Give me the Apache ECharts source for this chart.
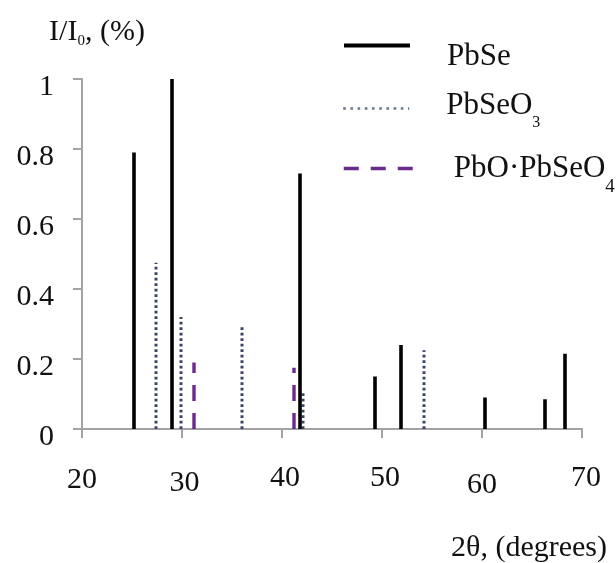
<!DOCTYPE html>
<html>
<head>
<meta charset="utf-8">
<script src="https://cdn.jsdelivr.net/npm/echarts@6/dist/echarts.min.js"></script>
<style>
  html, body { margin: 0; padding: 0; background: #fff; }
  #chart { width: 616px; height: 563px; }
</style>
</head>
<body>
<div id="chart"></div>
<script>
// Axis ticks
const xTicks = [20, 30, 40, 50, 60, 70];
const yTicks = [0, 0.2, 0.4, 0.6, 0.8, 1];

// Diffraction peaks: 2θ position and relative intensity I/I0
const pbseAngles = [25.2, 29.0, 41.8, 49.3, 51.9, 60.3, 66.3, 68.3];
const pbseIntensity = [0.79, 1.0, 0.73, 0.15, 0.24, 0.09, 0.085, 0.215];

const pbseo3Angles = [27.4, 29.9, 36.0, 42.1, 54.2];
const pbseo3Intensity = [0.475, 0.32, 0.295, 0.11, 0.225];

const pboAngles = [31.2, 41.2];
const pboIntensity = [0.19, 0.175];

const seriesNames = ['PbSe', 'PbSeO3', 'PbO·PbSeO4'];

const FONT = '"Liberation Serif", "Times New Roman", serif';
const AXIS_GRAY = '#a3a3a3';
const TEXT = '#111';

// Each peak is a vertical stick from 0 up to its intensity; '-' breaks the line between sticks
function sticks(angles, values) {
  const out = [];
  angles.forEach((a, i) => {
    out.push([a, 0], [a, values[i]], '-');
  });
  return out;
}

const legendRich = {
  t: { fontFamily: FONT, fontSize: 31, color: TEXT },
  s3: { fontFamily: FONT, fontSize: 16, color: TEXT, padding: [34, 0, 0, 0] },
  s4: { fontFamily: FONT, fontSize: 19, color: TEXT, padding: [38, 0, 0, 0] }
};

function legendFor(name, top, iconWidth, textPadding, lineStyle) {
  return {
    data: [name],
    orient: 'vertical',
    left: 342,
    top: top,
    padding: 0,
    itemWidth: iconWidth,
    itemHeight: 14,
    selectedMode: false,
    itemStyle: { borderWidth: 0, color: 'rgba(0,0,0,0)' },
    lineStyle: lineStyle,
    textStyle: { padding: textPadding, rich: legendRich },
    formatter: function (n) {
      if (n === 'PbSeO3') return '{t|PbSeO}{s3|3}';
      if (n === 'PbO·PbSeO4') return '{t|PbO·PbSeO}{s4|4}';
      return '{t|' + n + '}';
    }
  };
}

// Per-label nudges of the x tick labels: [top, left] padding
const xLabelNudge = { 20: [2, 0], 30: [5, 5], 40: [0, 6], 50: [0, 6], 60: [7, 0], 70: [0, 8] };
const xLabelRich = {};
xTicks.forEach(v => {
  const p = xLabelNudge[v];
  xLabelRich['v' + v] = {
    fontFamily: FONT, fontSize: 30, color: TEXT,
    padding: [p[0], 0, 0, p[1]]
  };
});

const chart = echarts.init(document.getElementById('chart'));
chart.setOption({
  animation: false,
  backgroundColor: '#fff',
  grid: { left: 82, right: 34, top: 79, bottom: 132, containLabel: false },
  legend: [
    legendFor(seriesNames[0], 40, 66, [22, 0, 0, 32], { width: 4 }),
    legendFor(seriesNames[1], 90, 66, [0, 0, 6, 32], { width: 2.4, type: [2.6, 4.6], color: '#66768a' }),
    legendFor(seriesNames[2], 153, 69, [0, 0, 0, 36], { width: 3.5, type: [15, 12] })
  ],
  xAxis: {
    type: 'value',
    min: xTicks[0],
    max: xTicks[xTicks.length - 1],
    interval: 10,
    name: '2θ, (degrees)',
    nameLocation: 'end',
    nameGap: 25,
    nameTextStyle: {
      fontFamily: FONT, fontSize: 30, color: TEXT,
      align: 'right', verticalAlign: 'top', padding: [104, 0, 0, 0]
    },
    axisLine: { show: true, lineStyle: { color: AXIS_GRAY, width: 2 } },
    axisTick: { show: true, length: 9, lineStyle: { color: AXIS_GRAY, width: 2 } },
    axisLabel: {
      margin: 34,
      formatter: v => '{v' + v + '|' + v + '}',
      rich: xLabelRich
    },
    splitLine: { show: false }
  },
  yAxis: {
    type: 'value',
    min: yTicks[0],
    max: yTicks[yTicks.length - 1],
    interval: 0.2,
    name: '{a|I/I}{s|0}{a|, (%)}',
    nameLocation: 'end',
    nameGap: 30,
    nameTextStyle: {
      align: 'center',
      padding: [0, 0, 0, 30],
      rich: {
        a: { fontFamily: FONT, fontSize: 30, color: TEXT },
        s: { fontFamily: FONT, fontSize: 15, color: TEXT, padding: [18, 0, 0, 0] }
      }
    },
    axisLine: { show: true, lineStyle: { color: AXIS_GRAY, width: 2 } },
    axisTick: { show: true, length: 9, lineStyle: { color: AXIS_GRAY, width: 2 } },
    axisLabel: {
      margin: 28,
      formatter: v => '{v|' + v + '}',
      rich: {
        v: { fontFamily: FONT, fontSize: 30, color: TEXT, padding: [16, 0, 0, 0] }
      }
    },
    splitLine: { show: false }
  },
  series: [
    {
      name: seriesNames[0],
      type: 'line',
      symbol: 'none',
      connectNulls: false,
      data: sticks(pbseAngles, pbseIntensity),
      lineStyle: { color: '#000', width: 3.6, type: 'solid' },
      itemStyle: { color: '#000' },
      z: 3
    },
    {
      name: seriesNames[1],
      type: 'line',
      symbol: 'none',
      connectNulls: false,
      data: sticks(pbseo3Angles, pbseo3Intensity),
      lineStyle: { color: '#3a4662', width: 3, type: [2.8, 2.7] },
      itemStyle: { color: '#3a4662' },
      z: 2
    },
    {
      name: seriesNames[2],
      type: 'line',
      symbol: 'none',
      connectNulls: false,
      data: sticks(pboAngles, pboIntensity),
      lineStyle: { color: '#6a2a8e', width: 3.4, type: [16, 12] },
      itemStyle: { color: '#6a2a8e' },
      z: 2
    }
  ]
});
</script>
</body>
</html>
